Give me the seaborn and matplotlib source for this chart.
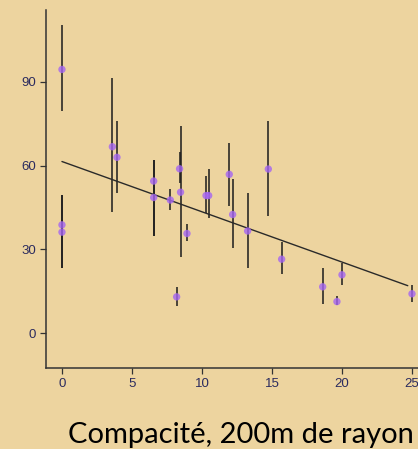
import matplotlib
matplotlib.use("Agg")
import matplotlib.pyplot as plt
import seaborn as sns
import pandas as pd

# --- data ---
x_vals = [0, 0, 0, 3.6, 3.93, 6.55, 6.55, 7.74, 8.19, 8.40, 8.47, 8.93,
          10.29, 10.48, 11.95, 12.19, 13.26, 14.74, 15.69, 18.62, 19.64, 20.0, 25.0]
y_vals = [94.5, 38.8, 36.2, 66.8, 63.0, 54.5, 48.6, 47.7, 13.0, 58.9, 50.5, 35.7,
          49.3, 49.3, 56.9, 42.5, 36.6, 58.8, 26.5, 16.6, 11.3, 20.9, 14.1]
err_lo = [79.6, 23.2, 23.2, 43.4, 50.1, 34.8, 34.8, 44.1, 9.7, 53.7, 27.4, 33.0,
          42.9, 41.1, 45.5, 30.4, 23.5, 42.0, 21.1, 10.4, 10.0, 17.2, 11.2]
err_hi = [110.3, 49.5, 49.5, 91.3, 76.1, 62.2, 62.2, 51.8, 16.6, 65.0, 74.2, 39.0,
          56.3, 58.7, 68.3, 55.1, 50.3, 76.1, 32.7, 23.2, 13.3, 25.2, 17.2]
fit_x = [0.0, 24.7]
fit_y = [61.5, 17.0]
x_ticks = [0, 5, 10, 15, 20, 25]
y_ticks = [0, 30, 60, 90]
x_label = "Compacité, 200m de rayon"

df = pd.DataFrame({"x": x_vals, "y": y_vals, "lo": err_lo, "hi": err_hi})
fit = pd.DataFrame({"x": fit_x, "y": fit_y})

bg = "#EDD49F"
sns.set_theme(style="ticks")
plt.rcParams["font.family"] = ["Liberation Sans", "DejaVu Sans"]

fig = plt.figure(figsize=(4.18, 4.49), dpi=100, facecolor=bg)
ax = fig.add_axes([46 / 418, 1 - 368 / 449, (418 - 46) / 418, (368 - 10) / 449])
ax.set_facecolor(bg)

ax.vlines(df["x"], df["lo"], df["hi"], colors="#1c1c1c", linewidth=1.1, zorder=2)
sns.lineplot(data=fit, x="x", y="y", ax=ax, color="#2a2a2a", linewidth=1.0, zorder=3)
sns.scatterplot(data=df, x="x", y="y", ax=ax, color="#A565F2", s=28, alpha=0.8,
                edgecolor="none", zorder=4)

ax.set_xlim(-1.14, 25.43)
ax.set_ylim(-12.5, 115.8)
ax.set_xticks(x_ticks)
ax.set_yticks(y_ticks)
ax.set_xlabel("")
ax.set_ylabel("")
for s in ["top", "right"]:
    ax.spines[s].set_visible(False)
for s in ["left", "bottom"]:
    ax.spines[s].set_color("#333333")
    ax.spines[s].set_linewidth(1.1)
ax.tick_params(axis="both", direction="out", length=4.5, width=0.9, color="#333333",
               labelsize=9.5, labelcolor="#2b2b5e", pad=2.5)

fig.text(414 / 418, 1 - 443 / 449, x_label, ha="right", va="baseline",
         fontsize=21, color="black", family=["Lato", "DejaVu Sans"])

fig.savefig("out.png", dpi=100, facecolor=bg)
